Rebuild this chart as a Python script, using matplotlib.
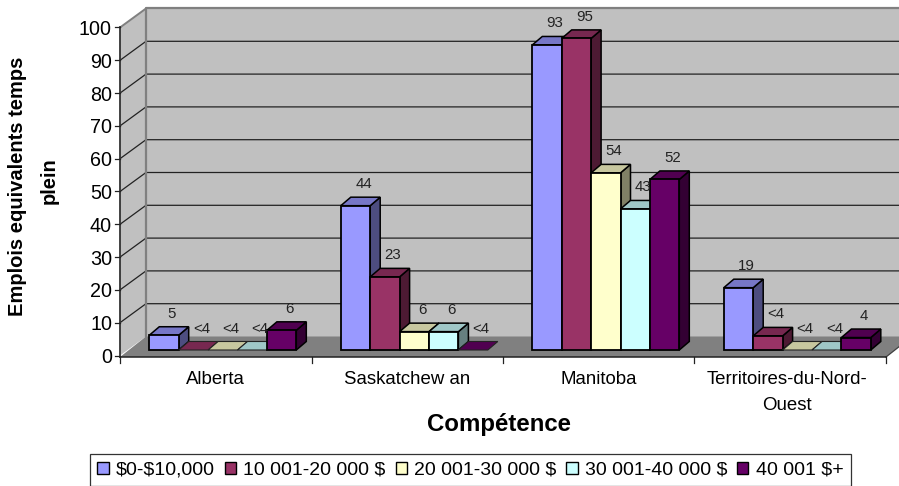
import matplotlib
matplotlib.use("Agg")
import matplotlib.pyplot as plt
from matplotlib.patches import Polygon, Patch

plt.rcParams['font.family'] = ['Liberation Sans', 'DejaVu Sans']

categories = ["Alberta", "Saskatchew an", "Manitoba", "Territoires-du-Nord-\nOuest"]
series_names = [r"\$0-\$10,000", r"10 001-20 000 \$", r"20 001-30 000 \$", r"30 001-40 000 \$", r"40 001 \$+"]
series_colors = ["#9999FF", "#993366", "#FFFFCC", "#CCFFFF", "#660066"]
s1_values = [4.5, 44, 93, 19]
s2_values = [0, 22.3, 95, 4.3]
s3_values = [0, 5.6, 54, 0]
s4_values = [0, 5.6, 43, 0]
s5_values = [6, 0, 52, 3.8]
s1_labels = ["5", "44", "93", "19"]
s2_labels = ["<4", "23", "95", "<4"]
s3_labels = ["<4", "6", "54", "<4"]
s4_labels = ["<4", "6", "43", "<4"]
s5_labels = ["6", "<4", "52", "4"]
values = [s1_values, s2_values, s3_values, s4_values, s5_values]
labels = [s1_labels, s2_labels, s3_labels, s4_labels, s5_labels]
y_ticks = list(range(0, 101, 10))

W, H = 899, 486
fig = plt.figure(figsize=(W / 100, H / 100), dpi=100, facecolor="white")
L, R, B, T = 120, 886, 355.5, 27.5
ax = fig.add_axes([L / W, 1 - B / H, (R - L) / W, (B - T) / H])
ax.set_xlim(0, 4)
ax.set_ylim(0, 100)
ax.axis("off")

ux = 4 / (R - L)     # data per pixel
uy = 100 / (B - T)
DX, DY = 26, 19      # chart depth in pixels
FL = -1.5            # floor front edge sits slightly under the zero tick


def proj(x, y, dx=0.0, dy=0.0):
    return (x + dx * ux, y + dy * uy)


def poly(pts, fc, ec="none", lw=0.0, z=1, join="miter"):
    ax.add_patch(Polygon(pts, closed=True, facecolor=fc, edgecolor=ec, linewidth=lw,
                         zorder=z, clip_on=False, joinstyle=join))


def shade(c, f):
    r, g, b = matplotlib.colors.to_rgb(c)
    return (r * f, g * f, b * f)


# walls and floor
poly([proj(0, 0), proj(0, 100), proj(0, 100, DX, DY), proj(0, 0, DX, DY)], "#C0C0C0")
poly([proj(0, 0, DX, DY), proj(0, 100, DX, DY), proj(4, 100, DX, DY), proj(4, 0, DX, DY)], "#C0C0C0")
poly([proj(0, 0, 0, FL), proj(4, 0, 0, FL), proj(4, 0, DX, DY), proj(0, 0, DX, DY)], "#808080")

for t in y_ticks[1:-1]:
    a, b, c = proj(0, t), proj(0, t, DX, DY), proj(4, t, DX, DY)
    ax.plot([a[0], b[0], c[0]], [a[1], b[1], c[1]], color="#222222", lw=0.9, zorder=1.5, clip_on=False)

wall = [proj(0, 0, DX, DY), proj(0, 100, DX, DY), proj(4, 100, DX, DY)]
ax.plot(*zip(*wall), color="#808080", lw=1.6, zorder=1.6, clip_on=False)
ax.plot(*zip(proj(0, 100), proj(0, 100, DX, DY)), color="#808080", lw=1.4, zorder=1.6, clip_on=False)
ax.plot(*zip(proj(4, 0, 0, FL), proj(4, 0, DX, DY)), color="#404040", lw=0.9, zorder=1.6, clip_on=False)

# axes
ax.plot(*zip(proj(0, 0, 0, FL), proj(0, 100)), color="#333333", lw=1.3, zorder=1.7, clip_on=False)
ax.plot(*zip(proj(0, 0, 0, FL), proj(4, 0, 0, FL)), color="#222222", lw=1.1, zorder=1.7, clip_on=False)
for t in y_ticks:
    ax.plot(*zip(proj(0, t), proj(0, t, -5, 0)), color="#222222", lw=0.9, clip_on=False)
    ax.text(*proj(0, t, -8, 0), str(t), ha="right", va="center_baseline", fontsize=14.2, color="black")
for i in range(5):
    ax.plot(*zip(proj(i, 0, 0, FL), proj(i, 0, 0, -7)), color="#222222", lw=0.9, clip_on=False)
for i, c in enumerate(categories):
    ax.text(*proj(i + 0.5, 0, -3 if i == 3 else 0, -15), c, ha="center", va="top", fontsize=13.4,
            color="black", linespacing=1.75)

# bars
bw = 29.4 * ux
gap0 = 21.3 * ux
odx, ody = 8, 5.5    # bar front offset from the chart's front plane
bdx, bdy = 10, 8.5   # bar depth
z = 2.0
for ci in range(4):
    for si in range(5):
        v = values[si][ci]
        col = series_colors[si]
        x0 = ci + gap0 + si * bw
        x1 = x0 + bw
        f = [proj(x0, 0, odx, ody), proj(x1, 0, odx, ody), proj(x1, v, odx, ody), proj(x0, v, odx, ody)]
        tp = [proj(x0, v, odx, ody), proj(x1, v, odx, ody),
              proj(x1, v, odx + bdx, ody + bdy), proj(x0, v, odx + bdx, ody + bdy)]
        sd = [proj(x1, 0, odx, ody), proj(x1, 0, odx + bdx, ody + bdy),
              proj(x1, v, odx + bdx, ody + bdy), proj(x1, v, odx, ody)]
        if v > 0:
            poly(sd, shade(col, 0.5), "black", 1.1, z)
            poly(f, col, "black", 1.3, z + 0.1)
            poly(tp, shade(col, 0.78), "black", 1.1, z + 0.05)
        else:
            poly(tp, shade(col, 0.78), "#222222", 0.8, z)
        z += 0.2
        lx, ly = proj((x0 + x1) / 2, v, odx + 8, ody + 21.5)
        ax.text(lx, ly, labels[si][ci], ha="center", va="center", fontsize=10.8,
                color="#222222", zorder=30, clip_on=False)

fig.text(18 / W, 1 - 186.5 / H, "Emplois equivalents temps", rotation=90, ha="center", va="center",
         fontsize=14.5, fontweight="bold")
fig.text(49 / W, 1 - 180.5 / H, "plein", rotation=90, ha="center", va="center",
         fontsize=14.5, fontweight="bold")
fig.text(499 / W, 1 - 424 / H, "Compétence", ha="center", va="center", fontsize=17.3, fontweight="bold")

handles = [Patch(facecolor=c, edgecolor="black", linewidth=1.0) for c in series_colors]
leg = fig.legend(handles, series_names, ncol=5, loc="center", bbox_to_anchor=(470.5 / W, 1 - 470 / H),
                 fontsize=14.0, frameon=True, fancybox=False, edgecolor="#333333", framealpha=1,
                 handlelength=0.58, handleheight=0.58, handletextpad=0.38, columnspacing=0.5,
                 borderpad=0.4, borderaxespad=0)
leg.get_frame().set_linewidth(0.9)

fig.savefig("out.png", dpi=100, facecolor="white")
